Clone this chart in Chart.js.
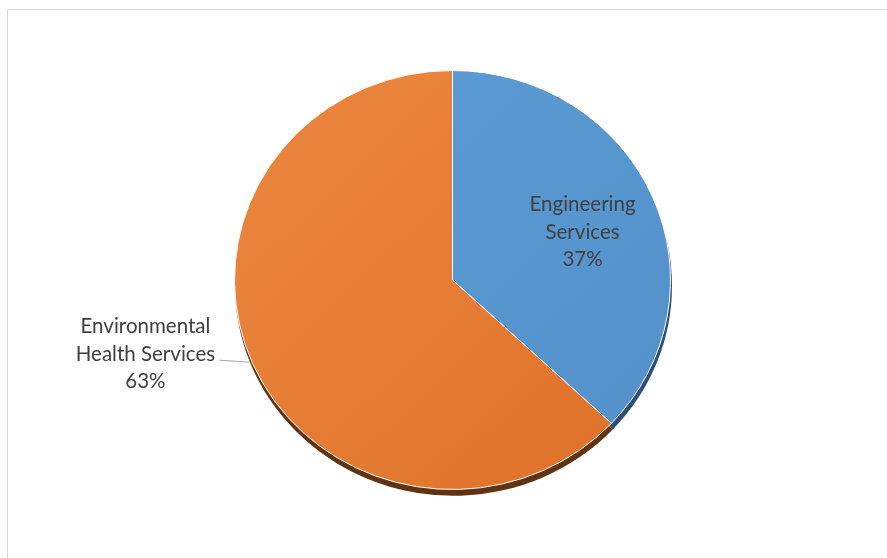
<!DOCTYPE html>
<html>
<head>
<meta charset="utf-8">
<script src="https://cdn.jsdelivr.net/npm/chart.js@4.4.1/dist/chart.umd.min.js"></script>
<style>
    html, body { margin: 0; padding: 0; background: #fff; overflow: hidden; }
    #frame { position: absolute; left: 7px; top: 9px; width: 900px; height: 600px; border: 1px solid #d9d9d9; }
    #chart { position: absolute; left: 0; top: 0; }
</style>
</head>
<body>
<div id="frame"></div>
<canvas id="chart" width="887" height="558"></canvas>
<script>
    // chart data
    const labels = ['Engineering Services', 'Environmental Health Services'];
    const labelLines = [['Engineering', 'Services'], ['Environmental', 'Health Services']];
    const values = [37, 63];
    const colorsLight = ['#5c9dd6', '#ec8840'];
    const colorsDark = ['#5490c9', '#df7029'];
    const shadowColors = ['#2d4f73', '#5e3414'];

    const squash = 0.961; // pie is slightly flattened in the original

    function sliceGradient(context) {
        const chart = context.chart;
        const area = chart.chartArea;
        if (!area) return colorsLight[context.dataIndex];
        const g = chart.ctx.createLinearGradient(area.left, area.top, area.right, area.bottom);
        g.addColorStop(0, colorsLight[context.dataIndex]);
        g.addColorStop(1, colorsDark[context.dataIndex]);
        return g;
    }

    // flatten the pie and draw the dark drop edge under each slice
    const squashPlugin = {
        id: 'squash',
        beforeDatasetsDraw(chart) {
            const ctx = chart.ctx;
            const meta = chart.getDatasetMeta(0);
            const cy = meta.data[0].y;
            ctx.save();
            ctx.translate(0, cy);
            ctx.scale(1, squash);
            ctx.translate(0, -cy);
            meta.data.forEach((arc, i) => {
                ctx.beginPath();
                ctx.moveTo(arc.x + 1, arc.y + 6);
                ctx.arc(arc.x + 1, arc.y + 6, arc.outerRadius + 0.5, arc.startAngle, arc.endAngle);
                ctx.closePath();
                ctx.fillStyle = shadowColors[i];
                ctx.fill();
            });
        },
        afterDatasetsDraw(chart) {
            chart.ctx.restore();
        }
    };

    // data labels: inside for the small slice, outside with a leader line for the big one
    const labelPlugin = {
        id: 'sliceLabels',
        afterDatasetsDraw(chart) {
            const ctx = chart.ctx;
            const meta = chart.getDatasetMeta(0);
            const total = values.reduce((a, b) => a + b, 0);
            ctx.save();
            ctx.font = '20.5px Lato, "Liberation Sans", sans-serif';
            ctx.fillStyle = '#404040';
            ctx.textAlign = 'center';
            ctx.textBaseline = 'middle';
            const lineH = 27.5;
            meta.data.forEach((arc, i) => {
                const mid = (arc.startAngle + arc.endAngle) / 2;
                const lines = labelLines[i].concat([Math.round(values[i] / total * 100) + '%']);
                let x, y;
                if (i === 0) {
                    const r = arc.outerRadius * 0.65;
                    x = arc.x + Math.cos(mid) * r;
                    y = arc.y + Math.sin(mid) * r * squash + 6;
                } else {
                    const ex = arc.x + Math.cos(mid) * arc.outerRadius;
                    const ey = arc.y + Math.sin(mid) * arc.outerRadius * squash;
                    ctx.strokeStyle = '#a6a6a6';
                    ctx.lineWidth = 1;
                    ctx.beginPath();
                    ctx.moveTo(ex - 3, ey - 1);
                    ctx.lineTo(ex - 33, ey - 3);
                    ctx.stroke();
                    x = ex - 107;
                    y = ey - 9;
                }
                lines.forEach((t, k) => {
                    ctx.fillText(t, x, y + (k - 1) * lineH);
                });
            });
            ctx.restore();
        }
    };

    new Chart(document.getElementById('chart'), {
        type: 'pie',
        data: {
            labels: labels,
            datasets: [{
                data: values,
                backgroundColor: sliceGradient,
                borderColor: '#ffffff',
                borderWidth: 1
            }]
        },
        options: {
            responsive: false,
            animation: false,
            layout: {
                padding: { left: 234, right: 216, top: 61, bottom: 59 }
            },
            plugins: {
                legend: { display: false },
                tooltip: { enabled: false }
            }
        },
        plugins: [squashPlugin, labelPlugin]
    });
</script>
</body>
</html>
